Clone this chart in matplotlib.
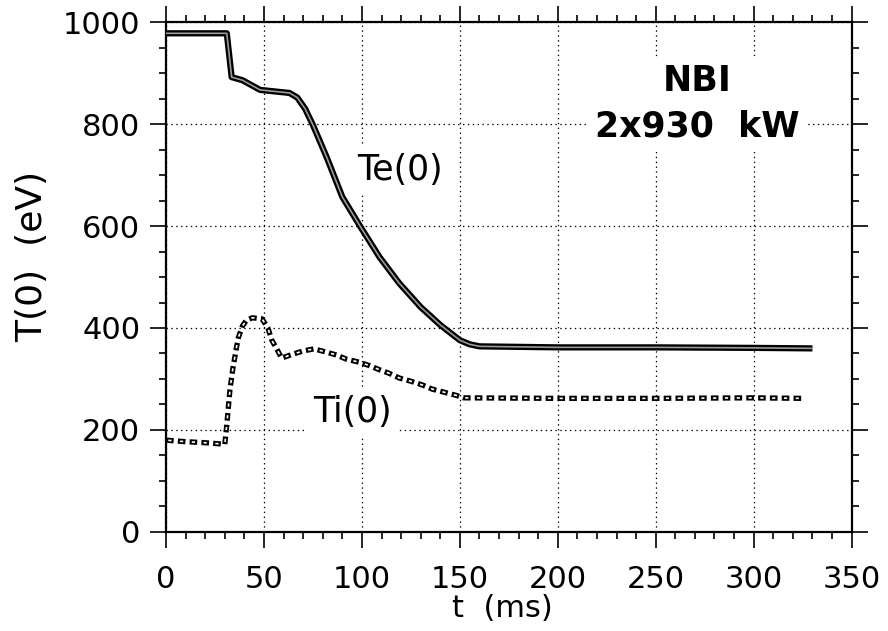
import matplotlib
matplotlib.use("Agg")
import matplotlib.pyplot as plt
from matplotlib.ticker import MultipleLocator

plt.rcParams['font.family'] = ['DejaVu Sans']
plt.rcParams['lines.scale_dashes'] = False

# ---------------- Te(0) ----------------
te_t = [0, 10, 20, 31, 33.5, 39, 48, 63, 67, 71, 75, 82, 90, 99, 109, 119, 130, 140,
        150, 155, 160, 200, 250, 300, 330]
te_v = [978, 978, 978, 978, 892, 886, 867, 861, 852, 830, 798, 735, 657, 600, 539,
        488, 441, 406, 376, 368, 364, 362, 362, 361, 360]

# ---------------- Ti(0) ----------------
ti_t = [0, 10, 20, 30, 31, 32.6, 34, 36, 37, 39, 41, 44, 49, 52, 54, 56.5, 59, 65,
        70, 75.5, 81.6, 87, 92, 98.5, 104, 109, 114, 119, 125.5, 131, 136, 142,
        148, 152, 200, 250, 300, 325]
ti_v = [180, 177, 175, 172, 210, 278, 318, 363, 382, 404, 415, 420, 418, 400, 376,
        359, 341, 349, 355, 359, 353, 347, 339, 333, 326, 318, 311, 302, 295, 288,
        280, 274, 268, 263, 262, 262, 263, 262]

fig = plt.figure(figsize=(8.88, 6.31), dpi=100)
ax = fig.add_axes([0.187, 0.157, 0.772, 0.808])

ax.set_xlim(0, 350)
ax.set_ylim(0, 1000)
ax.xaxis.set_major_locator(MultipleLocator(50))
ax.xaxis.set_minor_locator(MultipleLocator(10))
ax.yaxis.set_major_locator(MultipleLocator(200))
ax.yaxis.set_minor_locator(MultipleLocator(50))

ax.grid(True, which='major', color='black', linestyle=(0, (1, 2.5)), linewidth=0.9)
ax.set_axisbelow(True)

# Te: thick line with light core
ax.plot(te_t, te_v, color='black', lw=4.5, solid_capstyle='butt', zorder=3)
ax.plot(te_t, te_v, color='#9a9a9a', lw=1.2, solid_capstyle='butt', zorder=4)

# Ti: hollow dashes
ax.plot(ti_t, ti_v, color='black', lw=3.8, dashes=(5.5, 3), zorder=3)
ax.plot(ti_t, ti_v, color='white', lw=1.2, dashes=(0, 1.6, 2.3, 4.6), zorder=4)

for s in ax.spines.values():
    s.set_linewidth(1.6)

ax.tick_params(which='both', direction='out', top=True, right=True, width=1.2)
ax.tick_params(which='major', length=11.5, labelsize=22, pad=7)
ax.tick_params(which='minor', length=5)
ax.tick_params(axis='x', which='major', pad=12)

ax.set_xlabel('t  (ms)', fontsize=22, va='top')
ax.set_ylabel('T(0)  (eV)', fontsize=26, va='center')
ax.xaxis.set_label_coords(0.49, -0.122)
ax.yaxis.set_label_coords(-0.195, 0.541)

box = dict(facecolor='white', edgecolor='none', pad=5)
ax.text(271, 840, 'NBI\n2x930  kW', fontsize=25, fontweight='bold', ha='center',
        va='center', multialignment='center', linespacing=1.4, bbox=box, zorder=2)
ax.text(119.5, 710, 'Te(0)', fontsize=25, ha='center', va='center', bbox=box, zorder=2)
ax.text(95, 235, 'Ti(0)', fontsize=25, ha='center', va='center', bbox=box, zorder=2)

fig.savefig('out.png', dpi=100)
